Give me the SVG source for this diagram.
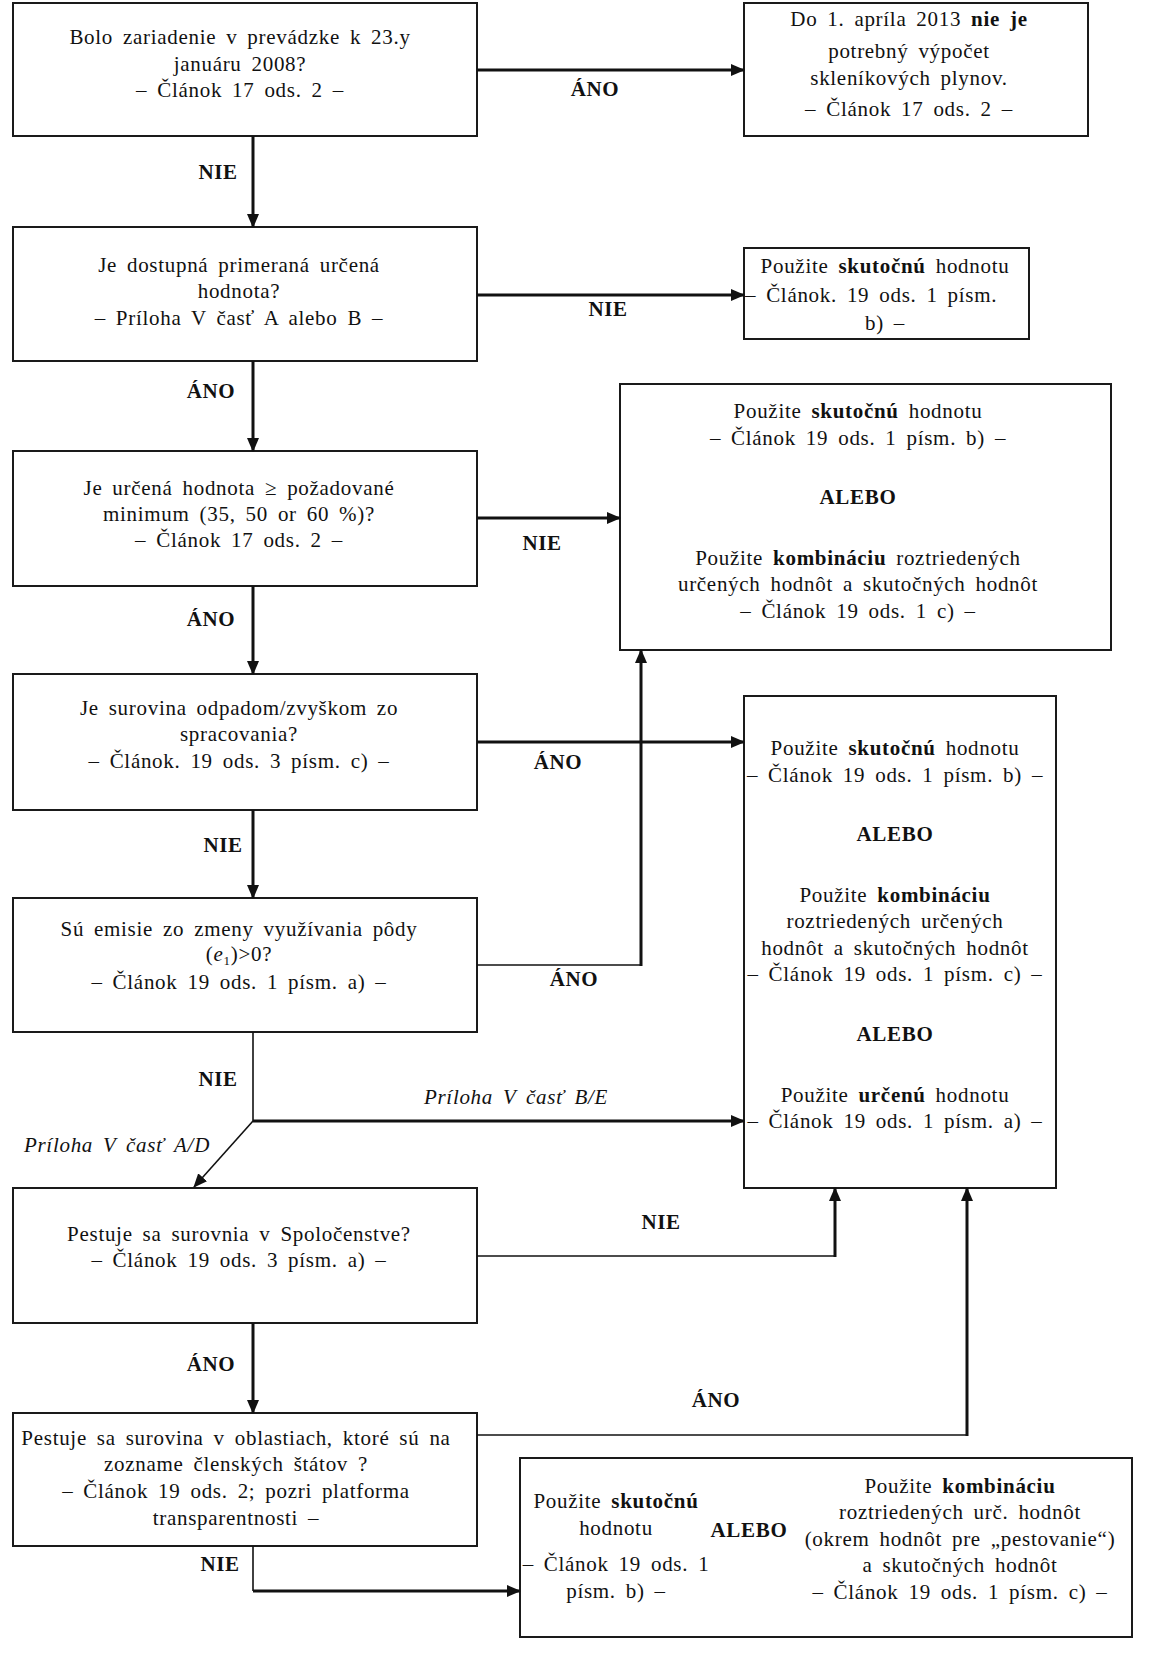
<svg xmlns="http://www.w3.org/2000/svg" width="1153" height="1666" viewBox="0 0 1153 1666">
<style>
.box{fill:#fff;stroke:#1a1a1a;stroke-width:2}
.t{font-family:"Liberation Serif",serif;font-size:21px;letter-spacing:0.7px;word-spacing:4px;fill:#111;text-anchor:middle}
.b{font-weight:bold}
.i{font-style:italic}
.lab{font-family:"Liberation Serif",serif;font-size:21px;letter-spacing:0.6px;font-weight:bold;fill:#111;text-anchor:middle}
.il{font-family:"Liberation Serif",serif;font-size:21px;letter-spacing:0.7px;word-spacing:4px;font-style:italic;fill:#111;text-anchor:middle}
.c{fill:none;stroke:#111;stroke-width:3}
.ct{fill:none;stroke:#111;stroke-width:1.6}
</style>
<defs>
<marker id="ah" markerWidth="14" markerHeight="12" refX="13" refY="6" orient="auto" markerUnits="userSpaceOnUse"><path d="M0,0 L14,6 L0,12 z" fill="#111"/></marker>
</defs>
<rect width="1153" height="1666" fill="#fff"/>

<g id="n1"><rect class="box" x="13" y="3" width="464" height="133"/>
<text class="t" x="240" y="44">Bolo zariadenie v prevádzke k 23.y</text>
<text class="t" x="240" y="71">januáru 2008?</text>
<text class="t" x="240" y="97">– Článok 17 ods. 2 –</text></g>

<g id="r1"><rect class="box" x="744" y="3" width="344" height="133"/>
<text class="t" x="909" y="26">Do 1. apríla 2013 <tspan class="b">nie je</tspan></text>
<text class="t" x="909" y="58">potrebný výpočet</text>
<text class="t" x="909" y="85">skleníkových plynov.</text>
<text class="t" x="909" y="116">– Článok 17 ods. 2 –</text></g>

<g id="n2"><rect class="box" x="13" y="227" width="464" height="134"/>
<text class="t" x="239" y="272">Je dostupná primeraná určená</text>
<text class="t" x="239" y="298">hodnota?</text>
<text class="t" x="239" y="325">– Príloha V časť A alebo B –</text></g>

<g id="r2"><rect class="box" x="744" y="248" width="285" height="91"/>
<text class="t" x="885" y="273">Použite <tspan class="b">skutočnú</tspan> hodnotu</text>
<text class="t" x="745" y="302" style="text-anchor:start">– Článok. 19 ods. 1 písm.</text>
<text class="t" x="885" y="330">b) –</text></g>

<g id="n3"><rect class="box" x="13" y="451" width="464" height="135"/>
<text class="t" x="239" y="495">Je určená hodnota ≥ požadované</text>
<text class="t" x="239" y="521">minimum (35, 50 or 60 %)?</text>
<text class="t" x="239" y="547">– Článok 17 ods. 2 –</text></g>

<g id="r3"><rect class="box" x="620" y="384" width="491" height="266"/>
<text class="t" x="858" y="418">Použite <tspan class="b">skutočnú</tspan> hodnotu</text>
<text class="t" x="858" y="445">– Článok 19 ods. 1 písm. b) –</text>
<text class="t b" x="858" y="504">ALEBO</text>
<text class="t" x="858" y="565">Použite <tspan class="b">kombináciu</tspan> roztriedených</text>
<text class="t" x="858" y="591">určených hodnôt a skutočných hodnôt</text>
<text class="t" x="858" y="618">– Článok 19 ods. 1 c) –</text></g>

<g id="n4"><rect class="box" x="13" y="674" width="464" height="136"/>
<text class="t" x="239" y="715">Je surovina odpadom/zvyškom zo</text>
<text class="t" x="239" y="741">spracovania?</text>
<text class="t" x="239" y="768">– Článok. 19 ods. 3 písm. c) –</text></g>

<g id="r4"><rect class="box" x="744" y="696" width="312" height="492"/>
<text class="t" x="895" y="755">Použite <tspan class="b">skutočnú</tspan> hodnotu</text>
<text class="t" x="895" y="782">– Článok 19 ods. 1 písm. b) –</text>
<text class="t b" x="895" y="841">ALEBO</text>
<text class="t" x="895" y="902">Použite <tspan class="b">kombináciu</tspan></text>
<text class="t" x="895" y="928">roztriedených určených</text>
<text class="t" x="895" y="955">hodnôt a skutočných hodnôt</text>
<text class="t" x="895" y="981">– Článok 19 ods. 1 písm. c) –</text>
<text class="t b" x="895" y="1041">ALEBO</text>
<text class="t" x="895" y="1102">Použite <tspan class="b">určenú</tspan> hodnotu</text>
<text class="t" x="895" y="1128">– Článok 19 ods. 1 písm. a) –</text></g>

<g id="n5"><rect class="box" x="13" y="898" width="464" height="134"/>
<text class="t" x="239" y="936">Sú emisie zo zmeny využívania pôdy</text>
<text class="t" x="239" y="961">(<tspan class="i">e</tspan><tspan font-size="13" dy="4">1</tspan><tspan dy="-4">)&gt;0?</tspan></text>
<text class="t" x="239" y="989">– Článok 19 ods. 1 písm. a) –</text></g>

<g id="n6"><rect class="box" x="13" y="1188" width="464" height="135"/>
<text class="t" x="239" y="1241">Pestuje sa surovnia v Spoločenstve?</text>
<text class="t" x="239" y="1267">– Článok 19 ods. 3 písm. a) –</text></g>

<g id="n7"><rect class="box" x="13" y="1413" width="464" height="133"/>
<text class="t" x="236" y="1445">Pestuje sa surovina v oblastiach, ktoré sú na</text>
<text class="t" x="236" y="1471">zozname členských štátov ?</text>
<text class="t" x="236" y="1498">– Článok 19 ods. 2; pozri platforma</text>
<text class="t" x="236" y="1525">transparentnosti –</text></g>

<g id="r5"><rect class="box" x="520" y="1458" width="612" height="179"/>
<text class="t" x="616" y="1508">Použite <tspan class="b">skutočnú</tspan></text>
<text class="t" x="616" y="1535">hodnotu</text>
<text class="t" x="616" y="1571">– Článok 19 ods. 1</text>
<text class="t" x="616" y="1598">písm. b) –</text>
<text class="t b" x="749" y="1537">ALEBO</text>
<text class="t" x="960" y="1493">Použite <tspan class="b">kombináciu</tspan></text>
<text class="t" x="960" y="1519">roztriedených urč. hodnôt</text>
<text class="t" x="960" y="1546">(okrem hodnôt pre „pestovanie“)</text>
<text class="t" x="960" y="1572">a skutočných hodnôt</text>
<text class="t" x="960" y="1599">– Článok 19 ods. 1 písm. c) –</text></g>

<g id="connectors">
<path class="c" d="M477,70 H744" marker-end="url(#ah)"/>
<path class="c" d="M253,136 V227" marker-end="url(#ah)"/>
<path class="c" d="M477,295 H744" marker-end="url(#ah)"/>
<path class="c" d="M253,361 V451" marker-end="url(#ah)"/>
<path class="c" d="M477,518 H620" marker-end="url(#ah)"/>
<path class="c" d="M253,586 V674" marker-end="url(#ah)"/>
<path class="c" d="M477,742 H744" marker-end="url(#ah)"/>
<path class="ct" d="M477,965 H641"/>
<path class="c" d="M641,966 V650" marker-end="url(#ah)"/>
<path class="c" d="M253,810 V898" marker-end="url(#ah)"/>
<path class="ct" d="M253,1032 V1121"/>
<path class="c" d="M253,1121 H744" marker-end="url(#ah)"/>
<path class="ct" d="M253,1121 L194,1187" marker-end="url(#ah)"/>
<path class="ct" d="M477,1256 H835"/>
<path class="c" d="M835,1257 V1188" marker-end="url(#ah)"/>
<path class="c" d="M253,1323 V1413" marker-end="url(#ah)"/>
<path class="ct" d="M477,1435 H967"/>
<path class="c" d="M967,1436 V1188" marker-end="url(#ah)"/>
<path class="ct" d="M253,1546 V1591"/>
<path class="c" d="M253,1591 H520" marker-end="url(#ah)"/>
<text class="lab" x="595" y="96">ÁNO</text>
<text class="lab" x="218" y="179">NIE</text>
<text class="lab" x="608" y="316">NIE</text>
<text class="lab" x="211" y="398">ÁNO</text>
<text class="lab" x="542" y="550">NIE</text>
<text class="lab" x="211" y="626">ÁNO</text>
<text class="lab" x="558" y="769">ÁNO</text>
<text class="lab" x="223" y="852">NIE</text>
<text class="lab" x="574" y="986">ÁNO</text>
<text class="lab" x="218" y="1086">NIE</text>
<text class="il" x="516" y="1104">Príloha V časť B/E</text>
<text class="il" x="117" y="1152">Príloha V časť A/D</text>
<text class="lab" x="661" y="1229">NIE</text>
<text class="lab" x="211" y="1371">ÁNO</text>
<text class="lab" x="716" y="1407">ÁNO</text>
<text class="lab" x="220" y="1571">NIE</text>
</g>
</svg>
